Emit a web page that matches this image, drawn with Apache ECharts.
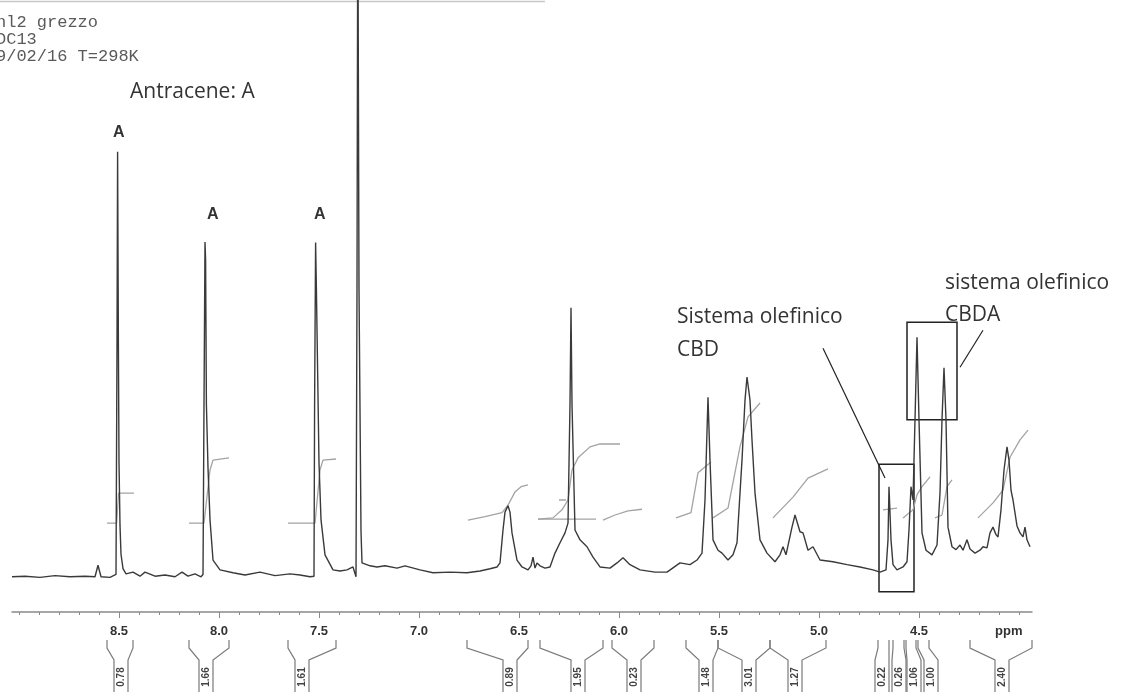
<!DOCTYPE html>
<html>
<head>
<meta charset="utf-8">
<script src="https://cdn.jsdelivr.net/npm/echarts@6/dist/echarts.min.js"></script>
<style>
  html, body { margin: 0; padding: 0; background: #fff; }
  #chart { width: 1131px; height: 692px; }
</style>
</head>
<body>
<div id="chart"></div>
<script>
// 1H NMR spectrum, [ppm, intensity]
const spectrum = [
  [9.035, 0.1], [8.970, 0.2], [8.895, 0.0], [8.820, 0.3], [8.745, 0.1], [8.670, 0.2], [8.620, 0.1],
  [8.605, 2.1], [8.590, 0.1], [8.545, 0.0], [8.515, 0.5], [8.510, 40], [8.507, 73.7], [8.503, 40],
  [8.500, 20], [8.495, 9], [8.490, 4], [8.480, 1.5], [8.465, 0.6], [8.430, 0.9], [8.395, 0.2],
  [8.370, 0.9], [8.320, 0.2], [8.270, 0.4], [8.220, 0.1], [8.185, 0.9], [8.155, 0.2], [8.120, 0.6],
  [8.090, 0.1], [8.080, 0.5], [8.075, 30], [8.070, 58.1], [8.067, 55], [8.063, 30], [8.055, 19],
  [8.045, 10], [8.030, 3.0], [7.995, 1.3], [7.930, 0.8], [7.870, 0.4], [7.795, 0.9], [7.720, 0.3],
  [7.645, 0.6], [7.595, 0.4], [7.545, 0.1], [7.525, 0.2], [7.522, 30], [7.517, 58], [7.513, 50],
  [7.500, 19.8], [7.490, 10], [7.470, 3.9], [7.430, 1.3], [7.395, 1.1], [7.360, 1.3], [7.330, 1.8],
  [7.315, 0.1], [7.310, 50], [7.306, 120], [7.300, 50], [7.290, 8], [7.285, 2.5], [7.245, 2.0],
  [7.210, 1.8], [7.170, 2.0], [7.110, 1.6], [7.070, 2.0], [6.995, 1.3], [6.930, 0.8], [6.845, 0.9],
  [6.760, 0.8], [6.695, 1.1], [6.645, 1.5], [6.610, 1.8], [6.595, 2.5], [6.580, 8.2], [6.570, 11.3],
  [6.555, 12.4], [6.545, 11.3], [6.535, 7.7], [6.510, 3.0], [6.485, 1.8], [6.455, 1.3], [6.440, 2.0],
  [6.430, 3.5], [6.420, 1.6], [6.410, 2.5], [6.395, 2.0], [6.370, 1.6], [6.345, 1.8], [6.320, 4.2],
  [6.295, 6.0], [6.270, 7.7], [6.255, 9.4], [6.245, 30], [6.240, 46.7], [6.235, 30], [6.220, 8.2],
  [6.195, 6.5], [6.160, 5.3], [6.130, 3.5], [6.095, 1.8], [6.045, 1.6], [6.010, 2.5], [5.980, 3.4],
  [5.945, 2.2], [5.895, 1.3], [5.820, 0.9], [5.760, 0.9], [5.695, 2.5], [5.645, 2.2], [5.610, 3.0],
  [5.585, 4.2], [5.570, 13.4], [5.555, 31.2], [5.545, 20.3], [5.530, 6.5], [5.505, 4.7], [5.485, 4.2],
  [5.455, 3.0], [5.430, 3.9], [5.410, 6.0], [5.385, 20.3], [5.370, 30.7], [5.360, 34.7], [5.345, 30.7],
  [5.335, 23.8], [5.320, 14.6], [5.295, 6.5], [5.260, 4.2], [5.220, 2.7], [5.195, 3.9], [5.180, 5.3],
  [5.165, 3.9], [5.135, 8.7], [5.120, 10.8], [5.095, 7.9], [5.080, 7.7], [5.055, 4.7], [5.030, 5.3],
  [4.995, 3.0], [4.930, 2.7], [4.860, 2.2], [4.795, 1.8], [4.730, 1.3], [4.695, 0.9], [4.665, 1.3],
  [4.655, 6.5], [4.650, 15.7], [4.640, 6.5], [4.630, 2.2], [4.610, 1.3], [4.580, 1.8], [4.560, 2.7],
  [4.550, 8.2], [4.540, 15.7], [4.530, 13.4], [4.520, 27.3], [4.510, 41.6], [4.500, 27.3], [4.485, 7.7],
  [4.465, 4.7], [4.435, 3.9], [4.410, 5.6], [4.395, 14.6], [4.385, 27.3], [4.375, 36.3], [4.365, 27.3],
  [4.355, 8.7], [4.335, 5.3], [4.315, 4.8], [4.295, 5.6], [4.280, 4.7], [4.260, 6.5], [4.245, 4.9],
  [4.220, 4.2], [4.195, 4.7], [4.180, 5.3], [4.160, 5.1], [4.145, 7.7], [4.130, 8.7], [4.115, 7.4],
  [4.105, 7.0], [4.090, 11.7], [4.075, 18.6], [4.060, 22.6], [4.050, 20.3], [4.040, 15.1], [4.030, 13.4],
  [4.010, 8.9], [3.995, 7.7], [3.980, 7.0], [3.970, 8.7], [3.960, 6.5], [3.945, 5.3]
];

// integral curves drawn over the peaks
const integralTraces = [
  [[8.560, 9.4], [8.512, 9.4], [8.502, 14.6], [8.425, 14.6]],
  [[8.150, 9.4], [8.075, 9.4], [8.045, 18.6], [8.030, 20.3], [7.950, 20.7]],
  [[7.655, 9.4], [7.520, 9.4], [7.495, 18.6], [7.480, 20.3], [7.415, 20.5]],
  [[6.755, 9.9], [6.670, 10.5], [6.585, 11.2], [6.555, 12.5], [6.520, 14.8], [6.490, 15.7], [6.455, 16.0]],
  [[6.405, 10.1], [6.330, 10.3], [6.285, 11.7], [6.255, 13.4], [6.235, 18.6], [6.205, 20.7], [6.145, 22.6], [6.095, 23.1], [5.995, 23.1]],
  [[6.405, 10.1], [6.115, 10.1]],
  [[6.300, 13.4], [6.265, 13.4]],
  [[6.080, 9.9], [6.020, 10.8], [5.955, 11.5], [5.885, 11.8]],
  [[5.715, 10.3], [5.640, 11.2], [5.605, 18.1], [5.540, 20.0]],
  [[5.530, 10.3], [5.455, 12.0], [5.395, 22.6], [5.355, 27.8], [5.295, 30.2]],
  [[5.230, 10.3], [5.130, 13.9], [5.055, 17.2], [4.955, 18.8]],
  [[4.680, 11.7], [4.610, 12.0]],
  [[4.580, 10.3], [4.530, 11.7], [4.510, 14.3], [4.485, 15.7], [4.445, 17.4]],
  [[4.420, 10.3], [4.385, 10.8], [4.360, 15.7], [4.335, 16.9]],
  [[4.205, 10.3], [4.130, 12.9], [4.080, 15.1], [4.045, 20.8], [3.995, 23.8], [3.955, 25.5]]
];

const majorTicks = [8.5, 8.0, 7.5, 7.0, 6.5, 6.0, 5.5, 5.0, 4.5];
const minorTicks = [9.0, 8.9, 8.8, 8.7, 8.6, 8.4, 8.3, 8.2, 8.1, 7.9, 7.8, 7.7, 7.6, 7.4, 7.3, 7.2, 7.1,
  6.9, 6.8, 6.7, 6.6, 6.4, 6.3, 6.2, 6.1, 5.9, 5.8, 5.7, 5.6, 5.4, 5.3, 5.2, 5.1, 4.9, 4.8, 4.7, 4.6,
  4.4, 4.3, 4.2, 4.1, 4.0];

// integration results shown under the axis
const integralValues = ['0.78', '1.66', '1.61', '0.89', '1.95', '0.23', '1.48', '3.01', '1.27', '0.22', '0.26', '1.06', '1.00', '2.40'];
const integralFrom = [8.560, 8.150, 7.655, 6.760, 6.395, 6.035, 5.665, 5.505, 5.245, 4.705, 4.630, 4.565, 4.505, 4.245];
const integralTo = [8.430, 7.950, 7.415, 6.455, 6.080, 5.825, 5.505, 5.245, 4.965, 4.650, 4.575, 4.515, 4.450, 3.935];
const integralMid = [8.490, 8.065, 7.585, 6.545, 6.205, 5.925, 5.565, 5.350, 5.120, 4.685, 4.600, 4.525, 4.440, 4.085];

const headerLines = ['nl2 grezzo', 'DC13', '9/02/16 T=298K'];

const chart = echarts.init(document.getElementById('chart'));

const xBase = {
  type: 'value',
  min: 3.935,
  max: 9.035,
  inverse: true,
  position: 'bottom',
  splitLine: { show: false }
};

chart.setOption({
  animation: false,
  backgroundColor: '#fff',
  grid: { left: 12, right: 99, top: 0, bottom: 80 },
  xAxis: [
    Object.assign({}, xBase, {
      axisLine: { show: true, onZero: false, lineStyle: { color: '#8a8a8a', width: 1.5 } },
      axisTick: { show: true, customValues: minorTicks, length: 3, lineStyle: { color: '#8a8a8a' } },
      axisLabel: {
        show: true,
        customValues: majorTicks,
        formatter: (v) => v.toFixed(1),
        margin: 13,
        fontFamily: 'Liberation Sans',
        fontWeight: 'bold',
        fontSize: 13,
        color: '#333'
      }
    }),
    Object.assign({}, xBase, {
      axisLine: { show: false, onZero: false },
      axisTick: { show: true, customValues: majorTicks, length: 6, lineStyle: { color: '#8a8a8a' } },
      axisLabel: { show: false }
    })
  ],
  yAxis: { type: 'value', min: -6, max: 100, show: false },
  series: [
    {
      type: 'line',
      data: spectrum,
      symbol: 'none',
      clip: true,
      z: 3,
      lineStyle: { color: '#3a3a3a', width: 1.4 },
      markArea: {
        silent: true,
        itemStyle: { color: 'rgba(0,0,0,0)', borderColor: '#222', borderWidth: 1.5 },
        data: [
          [{ coord: [4.700, 19.6] }, { coord: [4.525, -2.5] }],
          [{ coord: [4.560, 44.2] }, { coord: [4.310, 27.3] }]
        ]
      },
      markLine: {
        silent: true,
        symbol: 'none',
        label: { show: false },
        lineStyle: { color: '#222', width: 1.2, type: 'solid' },
        data: [
          [{ coord: [4.980, 39.7] }, { coord: [4.670, 17.2] }],
          [{ coord: [4.180, 42.8] }, { coord: [4.295, 36.4] }]
        ]
      }
    }
  ].concat(integralTraces.map((trace) => ({
    type: 'line',
    data: trace,
    symbol: 'none',
    z: 2,
    lineStyle: { color: '#a3a3a3', width: 1.3 }
  })))
});

// texts and integration brackets
const axisY = chart.getHeight() - 80;
const graphics = [];
const textEl = (x, y, text, font, fill) => ({
  type: 'text', x: x, y: y, silent: true,
  style: { text: text, font: font, fill: fill, verticalAlign: 'middle' }
});

graphics.push({ type: 'line', shape: { x1: 0, y1: 1.5, x2: 545, y2: 1.5 }, style: { stroke: '#c8c8c8', lineWidth: 1.5 } });
headerLines.forEach((t, i) => {
  graphics.push(textEl(-4, 22 + i * 17, t, '17px "Liberation Mono"', '#5a5a5a'));
});
graphics.push(textEl(130, 92, 'Antracene: A', '21px "Open Sans"', '#333'));
graphics.push(textEl(113, 133, 'A', 'bold 16px "Liberation Sans"', '#333'));
graphics.push(textEl(207, 215, 'A', 'bold 16px "Liberation Sans"', '#333'));
graphics.push(textEl(314, 215, 'A', 'bold 16px "Liberation Sans"', '#333'));
graphics.push(textEl(677, 317, 'Sistema olefinico', '21px "Open Sans"', '#333'));
graphics.push(textEl(677, 350, 'CBD', '21px "Open Sans"', '#333'));
graphics.push(textEl(945, 283, 'sistema olefinico', '21px "Open Sans"', '#333'));
graphics.push(textEl(945, 315, 'CBDA', '21px "Open Sans"', '#333'));
graphics.push(textEl(995, 631, 'ppm', 'bold 13px "Liberation Sans"', '#333'));

integralValues.forEach((val, i) => {
  const xa = chart.convertToPixel({ xAxisIndex: 0 }, integralFrom[i]);
  const xb = chart.convertToPixel({ xAxisIndex: 0 }, integralTo[i]);
  const xm = chart.convertToPixel({ xAxisIndex: 0 }, integralMid[i]);
  const top = axisY + 28;
  const stroke = { stroke: '#7a7a7a', lineWidth: 1.2, fill: null };
  graphics.push({ type: 'polyline', silent: true, shape: { points: [[xa, top], [xa, top + 8], [xm - 7, top + 20], [xm - 7, 692]] }, style: stroke });
  graphics.push({ type: 'polyline', silent: true, shape: { points: [[xb, top], [xb, top + 8], [xm + 7, top + 20], [xm + 7, 692]] }, style: stroke });
  graphics.push({
    type: 'text', silent: true, x: xm, y: 677, rotation: Math.PI / 2,
    style: { text: val, font: 'bold 10px "Liberation Sans"', fill: '#444', align: 'center', verticalAlign: 'middle' }
  });
});

chart.setOption({ graphic: graphics });
</script>
</body>
</html>
